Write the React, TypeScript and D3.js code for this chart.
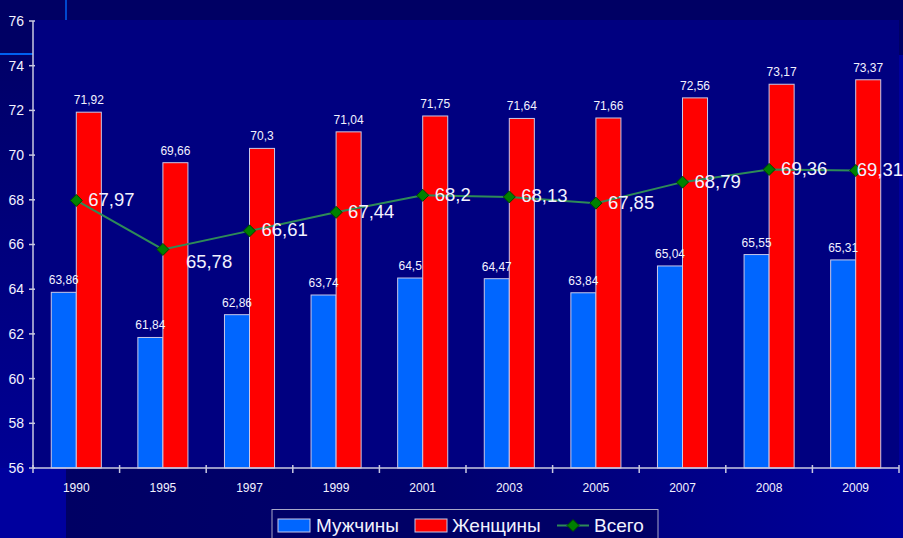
import React from "react";
import * as d3 from "d3";

const categories = ["1990", "1995", "1997", "1999", "2001", "2003", "2005", "2007", "2008", "2009"];
const menValues = [63.86, 61.84, 62.86, 63.74, 64.5, 64.47, 63.84, 65.04, 65.55, 65.31];
const womenValues = [71.92, 69.66, 70.3, 71.04, 71.75, 71.64, 71.66, 72.56, 73.17, 73.37];
const totalValues = [67.97, 65.78, 66.61, 67.44, 68.2, 68.13, 67.85, 68.79, 69.36, 69.31];
const yTicks = [56, 58, 60, 62, 64, 66, 68, 70, 72, 74, 76];
const seriesNames = ["Мужчины", "Женщины", "Всего"];

const W = 903;
const H = 538;
const FONT = "'Liberation Sans', Arial, sans-serif";
const TEXT = "#F2F2FF";
const AXIS = "#C8C8E0";
const BLUE = "#0066FF";
const RED = "#FF0000";
const BAR_STROKE = "#C8C8E8";
const LINE = "#2E8B57";
const MARK = "#008000";

const fmt = (v: number) => String(v).replace(".", ",");

export default function App() {
  const left = 33;
  const right = 899;
  const top = 20;
  const bottom = 468;

  const x = d3.scaleBand<string>().domain(categories).range([left, right]).paddingInner(0).paddingOuter(0);
  const xs = d3.scaleBand<string>().domain(["m", "f"]).range([0, x.bandwidth()]).paddingInner(0).paddingOuter(0.73);
  const y = d3.scaleLinear().domain([56, 76]).range([bottom, 21]);

  const cx = (c: string) => (x(c) as number) + x.bandwidth() / 2;
  const line = d3
    .line<number>()
    .x((_, i) => cx(categories[i]))
    .y((d) => y(d));

  const diamond = (px: number, py: number, r: number) =>
    `M${px},${py - r}L${px + r},${py}L${px},${py + r}L${px - r},${py}Z`;

  const boundaries = d3.range(categories.length + 1).map((i) => left + i * x.step());
  const last = categories.length - 1;
  const labelDx = (i: number) => (i === 1 ? 23 : i === last ? 1 : 12);
  const labelDy = (i: number) => (i === 1 ? 12 : -1);

  return (
    <svg
      width={W}
      height={H}
      style={{ position: "fixed", left: 0, top: 0, display: "block" }}
      fontFamily={FONT}
    >
      <defs>
        <linearGradient id="leftGrad" x1="0" y1="0" x2="0" y2="1">
          <stop offset="0" stopColor="#000068" />
          <stop offset="1" stopColor="#00009C" />
        </linearGradient>
        <linearGradient id="bottomGrad" x1="0" y1="0" x2="1" y2="0">
          <stop offset="0" stopColor="#000064" />
          <stop offset="0.45" stopColor="#00006E" />
          <stop offset="1" stopColor="#00009C" />
        </linearGradient>
      </defs>
      {/* slide background */}
      <rect x={0} y={0} width={W} height={H} fill="#00009C" />
      <rect x={0} y={0} width={W} height={55} fill="#000064" />
      <rect x={0} y={55} width={left} height={H - 55} fill="url(#leftGrad)" />
      <rect x={66} y={bottom} width={right - 66} height={H - bottom} fill="url(#bottomGrad)" />
      <rect x={0} y={bottom} width={66} height={H - bottom} fill="#00009E" />
      <line x1={66} y1={0} x2={66} y2={top} stroke="#0060F0" strokeWidth={1.5} />
      <line x1={0} y1={54} x2={left} y2={54} stroke="#0060F0" strokeWidth={2} />

      {/* plot area */}
      <rect x={left} y={top} width={right - left} height={bottom - top} fill="#000080" />

      {/* bars */}
      {categories.map((c, i) => (
        <g key={c}>
          <rect
            x={(x(c) as number) + (xs("m") as number)}
            y={y(menValues[i])}
            width={xs.bandwidth()}
            height={bottom - y(menValues[i])}
            fill={BLUE}
            stroke={BAR_STROKE}
            strokeWidth={1}
          />
          <rect
            x={(x(c) as number) + (xs("f") as number)}
            y={y(womenValues[i])}
            width={xs.bandwidth()}
            height={bottom - y(womenValues[i])}
            fill={RED}
            stroke={BAR_STROKE}
            strokeWidth={1}
          />
          <text
            x={(x(c) as number) + (xs("m") as number) + xs.bandwidth() / 2}
            y={y(menValues[i]) - 8}
            textAnchor="middle"
            fontSize={12}
            fill={TEXT}
          >
            {fmt(menValues[i])}
          </text>
          <text
            x={(x(c) as number) + (xs("f") as number) + xs.bandwidth() / 2}
            y={y(womenValues[i]) - 8}
            textAnchor="middle"
            fontSize={12}
            fill={TEXT}
          >
            {fmt(womenValues[i])}
          </text>
        </g>
      ))}

      {/* axes */}
      <line x1={left} y1={21} x2={left} y2={bottom} stroke={AXIS} strokeWidth={1.5} />
      <line x1={left} y1={bottom} x2={right} y2={bottom} stroke={AXIS} strokeWidth={1.5} />
      {yTicks.map((t) => (
        <g key={t}>
          <line x1={left - 4} x2={left + 2} y1={y(t)} y2={y(t)} stroke={AXIS} strokeWidth={1.5} />
          <text x={24} y={y(t)} dy="0.35em" textAnchor="end" fontSize={14} fill={TEXT}>
            {t}
          </text>
        </g>
      ))}
      {boundaries.map((b, i) => (
        <line key={i} x1={b} x2={b} y1={bottom - 3} y2={bottom + 5} stroke={AXIS} strokeWidth={1.5} />
      ))}
      {categories.map((c) => (
        <text key={c} x={cx(c)} y={492} textAnchor="middle" fontSize={12} fill={TEXT}>
          {c}
        </text>
      ))}

      {/* total line */}
      <path d={line(totalValues) as string} fill="none" stroke={LINE} strokeWidth={2} />
      {totalValues.map((v, i) => (
        <path key={i} d={diamond(cx(categories[i]), y(v), 6)} fill={MARK} stroke="#004400" strokeWidth={1} />
      ))}
      {totalValues.map((v, i) => (
        <text
          key={i}
          x={cx(categories[i]) + labelDx(i)}
          y={y(v) + labelDy(i)}
          dy="0.35em"
          fontSize={18.5}
          fill={TEXT}
        >
          {fmt(v)}
        </text>
      ))}

      {/* legend */}
      <rect x={272} y={509.5} width={386} height={40} fill="#000066" stroke="#A8A8C8" strokeWidth={1} />
      <rect x={278} y={519} width={32} height={13} fill={BLUE} stroke={BAR_STROKE} strokeWidth={1} />
      <text x={316} y={532} fontSize={19} fill={TEXT}>
        {seriesNames[0]}
      </text>
      <rect x={415} y={519} width={32} height={13} fill={RED} stroke={BAR_STROKE} strokeWidth={1} />
      <text x={452} y={532} fontSize={19} fill={TEXT}>
        {seriesNames[1]}
      </text>
      <line x1={557} x2={589} y1={525.5} y2={525.5} stroke={LINE} strokeWidth={2} />
      <path d={diamond(573, 525.5, 6)} fill={MARK} stroke="#004400" strokeWidth={1} />
      <text x={594} y={532} fontSize={19} fill={TEXT}>
        {seriesNames[2]}
      </text>
    </svg>
  );
}
